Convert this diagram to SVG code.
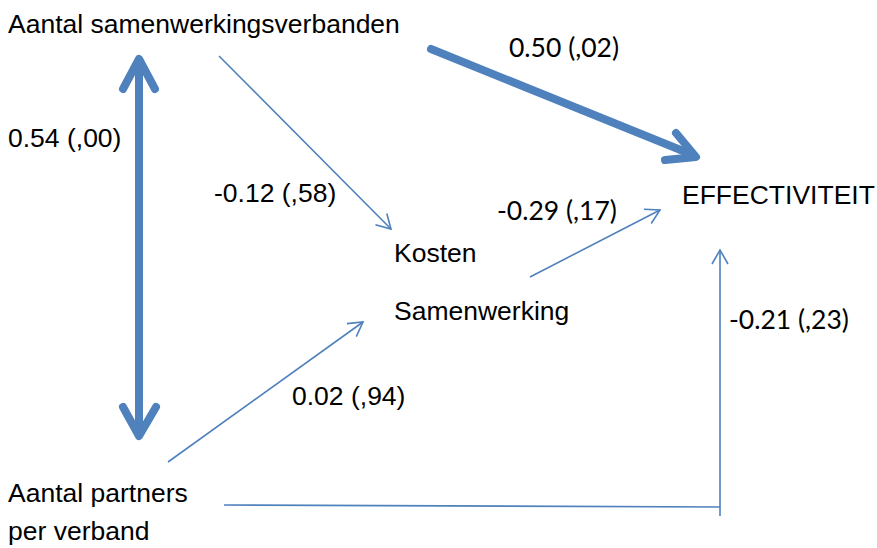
<svg xmlns="http://www.w3.org/2000/svg" width="877" height="548" viewBox="0 0 877 548">
<style>
.t{font-family:"Liberation Sans",Arial,sans-serif;font-size:26.5px;fill:#000}
.c{font-family:Lato,"Liberation Sans",sans-serif;font-size:26.5px;fill:#000}
.thin{stroke:#4F81BD;stroke-width:1.6;fill:none}
.thick{stroke:#4F81BD;stroke-width:8;fill:none;stroke-linecap:round;stroke-linejoin:round}
</style>
<defs>
<marker id="openThin" viewBox="0 0 20 20" refX="18" refY="10" markerWidth="20" markerHeight="20" markerUnits="userSpaceOnUse" orient="auto">
<path d="M4,2 L18,10 L4,18" fill="none" stroke="#4F81BD" stroke-width="1.6"/>
</marker>
</defs>
<rect width="877" height="548" fill="#fff"/>
<g id="connectors">
<g id="e-double">
<line class="thick" x1="139" y1="62" x2="139" y2="432"/>
<polyline class="thick" points="123,89 139,59 155,89"/>
<polyline class="thick" points="123,407 139,436 156,407"/>
</g>
<g id="e-samen-eff">
<line class="thick" x1="431" y1="49" x2="693" y2="155"/>
<polyline class="thick" points="676,133 696,157 665,160"/>
</g>
<line id="e-samen-kosten" class="thin" x1="219" y1="56" x2="391" y2="229" marker-end="url(#openThin)"/>
<line id="e-kosten-eff" class="thin" x1="530" y1="277" x2="660" y2="210" marker-end="url(#openThin)"/>
<line id="e-partners-kosten" class="thin" x1="168" y1="462" x2="363" y2="322" marker-end="url(#openThin)"/>
<g id="e-partners-eff">
<polyline class="thin" points="224,505 720,507"/>
<line class="thin" x1="720" y1="516" x2="720" y2="250" marker-end="url(#openThin)"/>
</g>
</g>
<g id="n-samenwerkingsverbanden"><text class="t" x="8" y="33">Aantal samenwerkingsverbanden</text></g>
<g id="n-partners"><text class="t" x="8" y="502">Aantal partners</text><text class="t" x="8" y="540">per verband</text></g>
<g id="n-kosten"><text class="t" x="394" y="262">Kosten</text><text class="t" x="394" y="320">Samenwerking</text></g>
<g id="n-effectiviteit"><text class="t" x="682" y="204">EFFECTIVITEIT</text></g>
<g id="labels">
<text class="t" x="8" y="147">0.54 (,00)</text>
<text class="t" x="214" y="202">-0.12 (,58)</text>
<text class="t" x="292" y="405">0.02 (,94)</text>
<text class="c" x="509" y="57">0.50 (,02)</text>
<text class="c" x="497" y="220">-0.29 (,17)</text>
<text class="c" x="729" y="329">-0.21 (,23)</text>
</g>
</svg>
